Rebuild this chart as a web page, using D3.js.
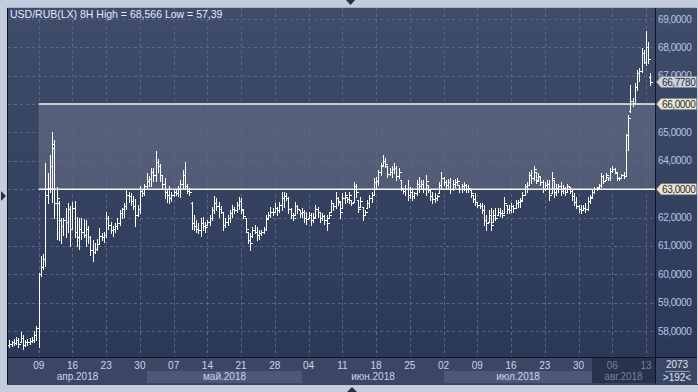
<!DOCTYPE html>
<html>
<head>
<meta charset="utf-8">
<title>USD/RUB(LX) 8H</title>
<style>
    html, body {
        margin: 0;
        padding: 0;
        background: #c3cddb;
    }
    svg {
        display: block;
        font-family: "Liberation Sans", Arial, sans-serif;
    }
</style>
</head>
<body>
<svg id="chart" width="698" height="392"></svg>
<script src="https://cdn.jsdelivr.net/npm/d3@7"></script>
<script>

    // 8H bars, 3 per trading day
    const opens = [
        57.5,57.55,57.6,57.58,57.7,57.6,57.75,57.5,57.6,57.62,57.66,57.7,57.85,
        58.12,60.0,60.25,60.55,62.8,63.05,63.8,64.45,62.5,62.5,61.9,61.7,61.9,61.85,62.3,
        61.6,62.35,61.5,61.3,61.6,61.5,61.4,61.6,61.3,60.85,60.8,60.9,61.05,61.35,61.3,
        61.4,62.0,61.75,61.55,61.6,61.7,61.8,62.15,62.3,62.4,62.8,62.75,62.6,62.4,62.1,
        62.3,62.95,62.85,63.1,63.3,63.35,63.6,63.5,63.95,63.8,63.5,63.2,62.9,62.8,62.7,
        62.8,62.9,62.85,63.0,63.2,63.5,63.1,62.95,62.5,61.8,61.7,61.6,61.55,61.8,61.7,
        61.75,61.85,62.0,62.25,62.5,62.4,62.3,62.2,61.75,61.85,62.0,62.15,62.3,62.25,62.45,
        62.6,62.27,61.97,61.5,61.2,61.35,61.55,61.5,61.4,61.45,61.5,61.6,61.97,62.1,62.2,
        62.2,62.35,62.25,62.45,62.7,62.75,62.7,62.3,62.1,62.09,62.4,62.27,62.15,62.2,62.0,
        61.97,62.1,61.9,62.03,62.3,62.2,62.0,62.05,61.9,61.97,62.2,62.5,62.4,62.7,62.56,
        62.32,62.7,62.74,62.65,62.62,62.56,63.1,62.62,62.38,62.38,62.1,62.32,62.5,62.7,62.8,
        63.25,63.3,63.6,63.85,64.0,63.8,63.55,63.6,63.7,63.75,63.45,63.33,63.03,62.95,63.0,
        62.8,62.9,62.75,62.85,63.2,63.1,63.2,63.0,63.15,62.97,62.75,62.65,62.7,62.85,63.15,
        63.4,63.25,63.15,63.25,63.0,63.2,63.25,63.15,63.0,63.1,63.15,63.0,62.97,62.8,62.65,
        62.55,62.45,62.4,62.25,61.9,61.85,62.1,61.85,62.1,62.09,62.2,62.15,62.15,62.44,62.3,
        62.25,62.4,62.35,62.5,62.55,62.62,62.8,63.1,63.15,63.5,63.4,63.62,63.33,63.44,63.25,
        63.0,63.15,63.2,62.85,63.33,62.9,63.05,63.1,62.95,63.05,62.91,63.09,62.95,62.75,62.55,
        62.4,62.3,62.27,62.35,62.3,62.6,62.74,62.9,63.0,63.09,63.15,63.45,63.33,63.44,63.38,
        63.65,63.7,63.56,63.4,63.38,63.5,63.48,64.9,65.75,66.1,66.05,66.6,67.1,67.15,67.8,
        67.5,68.0,66.95
    ];
    const highs = [
        57.68,57.66,57.72,57.8,57.75,57.95,57.85,57.7,57.72,57.75,57.78,58.0,58.18,
        60.05,60.65,60.7,63.93,63.58,64.2,65.0,64.75,63.07,62.6,62.0,62.0,62.35,62.5,62.4,
        62.55,62.6,62.03,62.0,62.0,61.95,61.9,61.7,61.35,61.2,61.1,61.25,61.62,61.45,61.5,
        62.2,62.05,61.85,61.7,61.8,62.0,62.27,62.35,62.5,63.0,62.9,62.85,62.75,62.66,62.45,
        63.1,63.0,63.2,63.57,63.45,63.76,63.75,64.33,64.05,63.9,63.5,63.4,63.0,63.1,62.9,
        63.0,63.0,63.1,63.33,63.68,63.97,63.2,63.03,62.56,62.09,61.9,61.8,61.97,62.03,61.85,
        61.93,62.09,62.38,62.76,62.68,62.56,62.41,62.2,61.97,62.09,62.27,62.44,62.38,62.56,62.74,
        62.68,62.27,61.97,61.5,61.44,61.67,61.73,61.67,61.56,61.56,61.67,62.09,62.2,62.36,62.32,
        62.5,62.38,62.56,62.91,62.91,62.85,62.74,62.32,62.15,62.56,62.44,62.27,62.32,62.27,62.2,
        62.2,62.15,62.15,62.44,62.38,62.2,62.15,62.09,62.09,62.2,62.62,62.5,62.91,62.74,62.56,
        62.85,62.91,62.74,62.91,62.62,63.26,63.2,62.62,62.74,62.38,62.27,62.62,62.8,62.91,63.38,
        63.44,63.68,63.91,64.2,64.09,63.8,63.73,63.8,63.91,63.8,63.73,63.33,63.03,63.15,63.33,
        63.09,63.03,62.91,63.33,63.44,63.33,63.33,63.5,63.15,62.97,62.91,62.85,62.8,63.27,63.62,
        63.44,63.33,63.35,63.38,63.33,63.35,63.38,63.15,63.2,63.27,63.2,63.15,62.97,62.8,62.85,
        62.56,62.5,62.5,62.44,62.09,62.27,62.32,62.27,62.32,62.32,62.32,62.27,62.74,62.44,62.44,
        62.5,62.44,62.62,62.62,62.68,62.91,63.2,63.27,63.62,63.68,63.8,63.62,63.56,63.44,63.33,
        63.27,63.33,63.33,63.62,63.33,63.2,63.2,63.27,63.15,63.09,63.2,63.09,62.97,62.85,62.74,
        62.44,62.44,62.44,62.5,62.74,62.8,62.97,63.09,63.09,63.2,63.56,63.5,63.56,63.44,63.74,
        63.8,63.74,63.56,63.44,63.55,63.6,64.95,65.62,66.67,66.2,66.73,67.2,67.26,67.97,67.91,
        68.566,68.2,67.08
    ];
    const lows = [
        57.42,57.47,57.5,57.55,57.45,57.6,57.38,57.48,57.52,57.55,57.6,57.62,57.68,
        57.45,59.95,60.2,60.3,62.5,62.9,62.55,62.0,61.24,61.2,61.1,61.4,61.3,61.5,61.0,
        61.6,61.3,61.0,60.9,61.25,61.3,61.0,61.1,60.68,60.47,60.75,60.85,61.05,61.2,61.15,
        61.3,61.6,61.45,61.35,61.5,61.6,61.74,62.0,62.03,62.3,62.55,62.45,62.3,61.7,62.05,
        62.15,62.75,62.8,63.04,63.1,63.1,63.3,63.3,63.6,63.3,63.0,62.7,62.56,62.5,62.6,
        62.75,62.8,62.75,62.74,63.03,63.03,62.85,62.8,61.58,61.56,61.5,61.44,61.35,61.56,61.5,
        61.74,61.74,61.9,62.15,62.27,62.03,62.15,61.56,61.68,61.74,61.85,62.03,62.15,62.2,62.29,
        62.15,61.97,61.5,61.09,60.87,61.32,61.44,61.2,61.26,61.38,61.44,61.56,61.97,62.03,62.09,
        62.2,62.09,62.2,62.27,62.38,62.62,62.15,61.97,61.9,62.09,62.15,62.03,62.03,61.85,61.79,
        61.97,61.74,61.85,62.03,62.03,61.85,61.9,61.79,61.56,61.97,62.2,62.27,62.32,62.44,61.97,
        62.32,62.5,62.56,62.5,62.44,62.56,62.74,62.2,62.38,61.93,62.09,62.32,62.38,62.56,62.8,
        63.03,63.15,63.5,63.85,63.79,63.44,63.5,63.44,63.56,63.32,63.38,62.97,62.85,62.8,62.62,
        62.68,62.62,62.68,62.8,62.91,63.03,62.91,62.8,62.91,62.62,62.52,62.56,62.62,62.85,63.03,
        63.15,63.03,63.03,62.85,62.97,63.09,63.15,62.91,62.91,62.97,62.91,62.91,62.74,62.56,62.44,
        62.38,62.32,62.15,61.74,61.56,61.85,61.56,61.85,61.91,62.09,62.06,62.01,62.15,62.15,62.15,
        62.21,62.21,62.32,62.38,62.38,62.62,62.8,62.91,63.15,63.21,63.33,63.21,63.33,63.15,62.91,
        62.97,63.03,62.62,62.85,62.74,62.8,62.91,62.8,62.85,62.8,62.91,62.85,62.62,62.44,62.32,
        62.21,62.15,62.27,62.21,62.27,62.5,62.74,62.85,62.97,63.09,63.09,63.21,63.33,63.33,63.33,
        63.62,63.56,63.33,63.33,63.38,63.4,63.45,64.38,65.73,65.95,66.03,66.5,66.8,67.14,67.44,
        67.38,67.44,66.67
    ];
    const closes = [
        57.55,57.6,57.58,57.7,57.55,57.75,57.5,57.6,57.62,57.66,57.7,57.85,58.12,
        60.0,60.25,60.55,62.8,63.05,63.8,64.6,62.5,62.7,61.9,61.7,61.9,61.85,62.3,61.6,
        62.35,61.5,61.3,61.6,61.5,61.4,61.6,61.3,60.85,60.8,60.9,61.05,61.35,61.3,61.4,
        62.0,61.75,61.55,61.6,61.7,61.8,62.15,62.3,62.4,62.8,62.75,62.6,62.4,62.1,62.3,
        62.95,62.85,63.1,63.3,63.35,63.6,63.5,63.95,63.8,63.5,63.2,62.9,62.8,62.7,62.8,
        62.9,62.85,63.0,63.2,63.5,63.1,62.95,62.9,61.8,61.7,61.6,61.55,61.8,61.7,61.65,
        61.85,62.0,62.25,62.5,62.4,62.3,62.2,61.75,61.85,62.0,62.15,62.3,62.25,62.45,62.6,
        62.3,62.05,61.6,61.2,61.1,61.55,61.5,61.4,61.45,61.5,61.6,61.95,62.1,62.2,62.2,
        62.35,62.25,62.45,62.7,62.75,62.7,62.3,62.1,62.0,62.4,62.3,62.15,62.2,62.0,61.95,
        62.1,61.9,62.0,62.3,62.2,62.0,62.05,61.9,61.8,62.1,62.5,62.4,62.7,62.6,62.2,
        62.7,62.8,62.65,62.8,62.5,63.1,62.9,62.3,62.6,62.1,62.2,62.5,62.7,62.8,63.25,
        63.3,63.6,63.8,64.0,63.9,63.55,63.6,63.7,63.75,63.45,63.6,63.05,62.95,63.0,62.8,
        62.9,62.75,62.85,63.2,63.1,63.2,63.0,63.3,63.0,62.75,62.65,62.7,62.75,63.15,63.4,
        63.25,63.15,63.25,63.0,63.2,63.25,63.3,63.0,63.1,63.15,63.0,63.05,62.85,62.65,62.55,
        62.45,62.4,62.25,61.9,61.8,62.1,61.75,62.1,62.0,62.2,62.15,62.1,62.5,62.3,62.25,
        62.4,62.35,62.5,62.55,62.6,62.8,63.1,63.0,63.5,63.4,63.7,63.3,63.45,63.25,63.0,
        63.15,63.2,62.8,63.4,62.9,63.05,63.1,62.95,63.05,62.9,63.1,62.95,62.75,62.55,62.4,
        62.3,62.25,62.35,62.3,62.6,62.7,62.9,63.0,63.05,63.15,63.45,63.3,63.5,63.38,63.65,
        63.7,63.6,63.4,63.38,63.5,63.48,64.9,65.5,66.1,66.05,66.6,67.1,67.15,67.8,67.5,
        68.0,67.6,66.778
    ];

    // bar index of each Monday and its day label
    const weekTicks = [13, 28, 43, 58, 73, 88, 103, 118, 133, 148, 163, 178, 193, 208, 223, 238, 253, 268, 283];
    const weekLabels = ["09", "16", "23", "30", "07", "14", "21", "28", "04", "11", "18", "25", "02", "09", "16", "23", "30", "06", "13"];

    // bar index where each month begins
    const monthStarts = [0, 61, 130, 193, 259];
    const monthLabels = ["апр.2018", "май.2018", "июн.2018", "июл.2018", "авг.2018"];

    const priceTicks = [58, 59, 60, 61, 62, 63, 64, 65, 66, 67, 68, 69];
    const levels = [66, 63];
    const zoneStart = 13;
    const lastPrice = 66.778;
    const title = "USD/RUB(LX) 8H High = 68,566 Low = 57,39";

    const plot = {left: 8, top: 8, right: 655, bottom: 357};
    const axisRight = 697, axisBottom = 384;

    const svg = d3.select("#chart");

    const x = d3.scaleLinear().domain([13, 283]).range([38.7, 646]);
    const y = d3.scaleLinear().domain([58, 69]).range([331, 19]);
    const fmt = v => v.toFixed(4).replace(".", ",");

    const defs = svg.append("defs");
    const grad = defs.append("linearGradient")
        .attr("id", "bg").attr("x1", 0).attr("y1", 0).attr("x2", 0).attr("y2", 1);
    grad.append("stop").attr("offset", "0%").attr("stop-color", "#3f4c6a");
    grad.append("stop").attr("offset", "100%").attr("stop-color", "#2c3857");

    defs.append("clipPath").attr("id", "plotClip")
        .append("rect")
        .attr("x", plot.left).attr("y", plot.top)
        .attr("width", plot.right - plot.left).attr("height", plot.bottom - plot.top);

    // panels
    svg.append("rect")
        .attr("x", plot.left).attr("y", plot.top)
        .attr("width", axisRight - plot.left).attr("height", plot.bottom - plot.top)
        .attr("fill", "url(#bg)");

    svg.append("rect")
        .attr("x", plot.left).attr("y", plot.bottom)
        .attr("width", axisRight - plot.left).attr("height", axisBottom - plot.bottom)
        .attr("fill", "#3a4664");

    // month bands along the bottom
    monthLabels.forEach((m, k) => {
        const x0 = k === 0 ? plot.left : Math.round(x(monthStarts[k]));
        const x1 = k === monthLabels.length - 1 ? plot.right : Math.round(x(monthStarts[k + 1]));
        if (k === monthLabels.length - 1) {
            svg.append("rect")
                .attr("x", x0).attr("y", plot.bottom + 1)
                .attr("width", x1 - x0).attr("height", axisBottom - plot.bottom - 2)
                .attr("fill", "#28324c");
        } else if (k % 2 === 1) {
            svg.append("rect")
                .attr("x", x0).attr("y", 371)
                .attr("width", x1 - x0).attr("height", 12)
                .attr("fill", "#4c5875");
        }
        svg.append("text")
            .attr("x", (x0 + x1) / 2).attr("y", 380)
            .attr("text-anchor", "middle")
            .attr("font-size", "10px")
            .attr("fill", k === monthLabels.length - 1 ? "#75819c" : "#c9d5ec")
            .text(m);
    });

    weekTicks.forEach((t, k) => {
        svg.append("text")
            .attr("x", x(t)).attr("y", 369)
            .attr("text-anchor", "middle")
            .attr("font-size", "10px")
            .attr("fill", t >= monthStarts[monthStarts.length - 1] ? "#75819c" : "#c9d5ec")
            .text(weekLabels[k]);
    });

    // support / resistance zone
    const chart = svg.append("g").attr("clip-path", "url(#plotClip)");

    chart.append("rect")
        .attr("x", x(zoneStart)).attr("y", y(levels[0]))
        .attr("width", plot.right - x(zoneStart))
        .attr("height", y(levels[1]) - y(levels[0]))
        .attr("fill", "#ffffff").attr("fill-opacity", 0.14);

    // grid
    const grid = chart.append("g")
        .attr("stroke", "#5b6784")
        .attr("stroke-dasharray", "3,3")
        .attr("shape-rendering", "crispEdges");
    grid.selectAll("line.v").data(weekTicks).join("line")
        .attr("class", "v")
        .attr("x1", d => Math.round(x(d)) + 0.5).attr("x2", d => Math.round(x(d)) + 0.5)
        .attr("y1", plot.top).attr("y2", plot.bottom);
    grid.selectAll("line.h").data(priceTicks).join("line")
        .attr("class", "h")
        .attr("x1", plot.left).attr("x2", plot.right)
        .attr("y1", d => Math.round(y(d)) + 0.5).attr("y2", d => Math.round(y(d)) + 0.5);

    chart.selectAll("line.level").data(levels).join("line")
        .attr("class", "level")
        .attr("x1", x(zoneStart)).attr("x2", plot.right)
        .attr("y1", d => y(d)).attr("y2", d => y(d))
        .attr("stroke", "#f4f4f0").attr("stroke-width", 1.5);

    // OHLC bars
    const bars = chart.append("g")
        .attr("stroke", "#ffffff")
        .attr("shape-rendering", "crispEdges");
    const idx = d3.range(closes.length);
    const px = i => Math.round(x(i)) + 0.5;
    const py = v => Math.round(y(v)) + 0.5;
    bars.selectAll("line.hl").data(idx).join("line")
        .attr("class", "hl")
        .attr("x1", px).attr("x2", px)
        .attr("y1", i => Math.round(y(highs[i]))).attr("y2", i => Math.round(y(lows[i])) + 1);
    bars.selectAll("line.o").data(idx).join("line")
        .attr("class", "o")
        .attr("x1", i => px(i) - 2).attr("x2", px)
        .attr("y1", i => py(opens[i])).attr("y2", i => py(opens[i]));
    bars.selectAll("line.c").data(idx).join("line")
        .attr("class", "c")
        .attr("x1", px).attr("x2", i => px(i) + 2)
        .attr("y1", i => py(closes[i])).attr("y2", i => py(closes[i]));

    // frame lines
    const frame = svg.append("g").attr("stroke", "#11151f").attr("shape-rendering", "crispEdges");
    frame.append("line").attr("x1", plot.right + 0.5).attr("x2", plot.right + 0.5)
        .attr("y1", plot.top).attr("y2", axisBottom);
    frame.append("line").attr("x1", plot.left).attr("x2", axisRight)
        .attr("y1", plot.bottom + 0.5).attr("y2", plot.bottom + 0.5);
    frame.append("line").attr("x1", plot.left - 0.5).attr("x2", plot.left - 0.5)
        .attr("y1", plot.top).attr("y2", axisBottom + 1);
    frame.append("line").attr("x1", plot.left - 1).attr("x2", axisRight + 0.5)
        .attr("y1", axisBottom + 0.5).attr("y2", axisBottom + 0.5)
        .attr("stroke", "#394256");
    svg.append("rect")
        .attr("x", plot.left - 1).attr("y", plot.top - 1)
        .attr("width", axisRight - plot.left + 1).attr("height", 1)
        .attr("fill", "#9fb0c8");

    // right axis labels (the level values are shown by their tags instead)
    svg.append("g").selectAll("text")
        .data(priceTicks.filter(d => !levels.includes(d)))
        .join("text")
        .attr("x", 658).attr("y", d => y(d) + 3.5)
        .attr("font-size", "10px")
        .attr("letter-spacing", "-0.4px")
        .attr("fill", "#b6c6e6")
        .text(fmt);

    // price tags
    const tags = [
        {v: levels[0], fill: "#ece7cb"},
        {v: levels[1], fill: "#ece7cb"},
        {v: lastPrice, fill: "#cfd3d8"}
    ];
    tags.forEach(t => {
        const cy = y(t.v);
        svg.append("path")
            .attr("d", `M656.5,${cy} L661,${cy - 5.5} L696.5,${cy - 5.5} L696.5,${cy + 5.5} L661,${cy + 5.5} Z`)
            .attr("fill", t.fill)
            .attr("stroke", "#7d879b").attr("stroke-width", 0.6);
        svg.append("text")
            .attr("x", 662).attr("y", cy + 3.6)
            .attr("font-size", "10px")
            .attr("letter-spacing", "-0.4px")
            .attr("fill", "#1f2a44")
            .text(fmt(t.v));
    });

    // title
    svg.append("text")
        .attr("x", 10).attr("y", 18)
        .attr("font-size", "10.5px")
        .attr("fill", "#e7ecf6")
        .text(title);

    // bottom-right corner box
    svg.append("text").attr("x", 677).attr("y", 368)
        .attr("text-anchor", "middle").attr("font-size", "10px").attr("fill", "#dfe7f5")
        .text("2073");
    svg.append("line").attr("x1", 665).attr("x2", 690).attr("y1", 371.5).attr("y2", 371.5)
        .attr("stroke", "#8e9ab2");
    svg.append("text").attr("x", 677).attr("y", 381)
        .attr("text-anchor", "middle").attr("font-size", "10px").attr("fill", "#dfe7f5")
        .text(">192<");

    // scroll markers
    svg.append("path").attr("d", "M1,191 L6,196 L1,201 Z").attr("fill", "#263042");
    svg.append("path").attr("d", "M346,0 L355,0 L350.5,5 Z").attr("fill", "#263042");
    svg.append("path").attr("d", "M347,392 L357,392 L352,387 Z").attr("fill", "#263042");

</script>
</body>
</html>
